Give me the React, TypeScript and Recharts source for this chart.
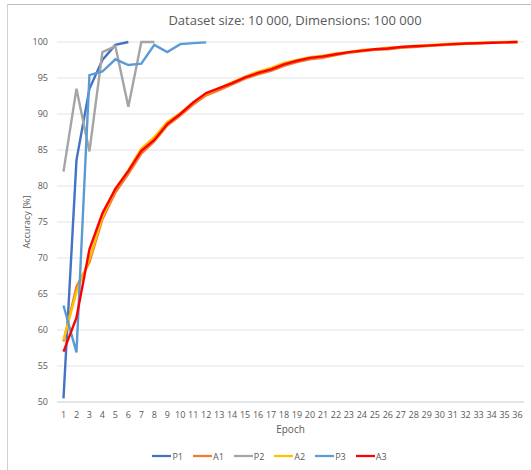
import React from 'react';
import { LineChart, Line, XAxis, YAxis, CartesianGrid, Legend } from 'recharts';

// Epochs 1..36
const epochs = Array.from({ length: 36 }, (_, i) => i + 1);

// (null = series has ended)
const p1 = [50.5, 83.6, 93.5, 97.5, 99.6, 100];
const p2 = [82.0, 93.5, 84.8, 98.6, 99.4, 91.0, 100, 100];
const p3 = [63.4, 56.9, 95.4, 95.9, 97.6, 96.8, 97.0, 99.6, 98.6, 99.7, 99.85, 99.95];
const a1 = [
  58.4, 66.0, 69.4, 75.4, 79.1, 81.7, 84.5, 86.2, 88.4, 89.8, 91.3, 92.6,
  93.3, 94.1, 94.9, 95.5, 96.0, 96.7, 97.2, 97.6, 97.8, 98.2, 98.5, 98.7,
  98.9, 99.0, 99.2, 99.3, 99.45, 99.55, 99.65, 99.75, 99.8, 99.9, 99.95, 100,
];
const a2 = [
  58.6, 65.3, 69.9, 75.7, 79.6, 82.2, 85.2, 86.8, 88.9, 90.1, 91.6, 92.8,
  93.6, 94.4, 95.2, 95.9, 96.4, 97.1, 97.5, 97.9, 98.1, 98.4, 98.6, 98.9,
  99.0, 99.2, 99.3, 99.45, 99.55, 99.65, 99.75, 99.85, 99.9, 99.95, 100, 100,
];
const a3 = [
  57.0, 61.7, 71.2, 76.2, 79.6, 82.1, 84.9, 86.4, 88.6, 90.0, 91.6, 92.9,
  93.6, 94.3, 95.1, 95.7, 96.2, 96.9, 97.4, 97.8, 98.0, 98.3, 98.6, 98.8,
  99.0, 99.1, 99.3, 99.4, 99.5, 99.6, 99.7, 99.8, 99.85, 99.9, 99.95, 100,
];
const yTicks = [50, 55, 60, 65, 70, 75, 80, 85, 90, 95, 100];

const series = [
  { key: 'P1', color: '#4472C4' },
  { key: 'A1', color: '#ED7D31' },
  { key: 'P2', color: '#A5A5A5' },
  { key: 'A2', color: '#FFC000' },
  { key: 'P3', color: '#5B9BD5' },
  { key: 'A3', color: '#FF0000' },
];

const data = epochs.map((e, i) => ({
  epoch: e,
  P1: p1[i] ?? null,
  A1: a1[i] ?? null,
  P2: p2[i] ?? null,
  A2: a2[i] ?? null,
  P3: p3[i] ?? null,
  A3: a3[i] ?? null,
}));

const FONT = '"Open Sans", sans-serif';
const TXT = '#595959';

const LegendRow = () => (
  <div style={{ display: 'flex', justifyContent: 'center', alignItems: 'center', height: 20, paddingLeft: 8 }}>
    {series.map((s) => (
      <div key={s.key} style={{ display: 'flex', alignItems: 'center', marginRight: 10 }}>
        <svg width={19} height={6} style={{ marginRight: 1 }}>
          <line x1={0} y1={3} x2={19} y2={3} stroke={s.color} strokeWidth={2.25} />
        </svg>
        <span style={{ fontFamily: FONT, fontSize: 9, color: TXT }}>{s.key}</span>
      </div>
    ))}
  </div>
);

export default function App() {
  return (
    <div style={{ position: 'absolute', left: 0, top: 0, width: 531, height: 470, overflow: 'hidden', background: '#fff' }}>
      <div
        style={{
          position: 'absolute', left: 7, top: 4, width: 560, height: 500,
          borderLeft: '1px solid #d0d0d0', borderTop: '1px solid #bdbdbd',
        }}
      />
      <div
        style={{
          position: 'absolute', left: 100, top: 11, width: 390, textAlign: 'center',
          fontFamily: FONT, fontSize: 13, color: TXT,
        }}
      >
        Dataset size: 10 000, Dimensions: 100 000
      </div>
      <div style={{ position: 'absolute', left: 0, top: 0 }}>
        <LineChart width={531} height={470} data={data} margin={{ top: 42, right: 7, bottom: 4, left: 17 }}>
          <CartesianGrid vertical={false} stroke="#e3e3e3" />
          <XAxis
            dataKey="epoch"
            axisLine={{ stroke: '#d9d9d9' }}
            tickLine={false}
            tickSize={0}
            tickMargin={10}
            height={44}
            interval={0}
            padding={{ left: 6.5, right: 6.5 }}
            tick={{ fill: TXT, fontSize: 9, fontFamily: FONT }}
            label={{ value: 'Epoch', position: 'insideBottom', offset: 13, fill: TXT, fontSize: 10, fontFamily: FONT }}
          />
          <YAxis
            domain={[50, 100]}
            ticks={yTicks}
            axisLine={false}
            tickLine={false}
            tickSize={0}
            tickMargin={9}
            width={40}
            tick={{ fill: TXT, fontSize: 9, fontFamily: FONT }}
            label={{
              value: 'Accuracy [%]', angle: -90, position: 'insideLeft', offset: 10,
              fill: TXT, fontSize: 9, fontFamily: FONT, style: { textAnchor: 'middle' },
            }}
          />
          <Legend verticalAlign="bottom" height={20} content={() => <LegendRow />} />
          {series.map((s) => (
            <Line
              key={s.key}
              type="linear"
              dataKey={s.key}
              stroke={s.color}
              strokeWidth={2.4}
              dot={false}
              activeDot={false}
              isAnimationActive={false}
            />
          ))}
        </LineChart>
      </div>
    </div>
  );
}
